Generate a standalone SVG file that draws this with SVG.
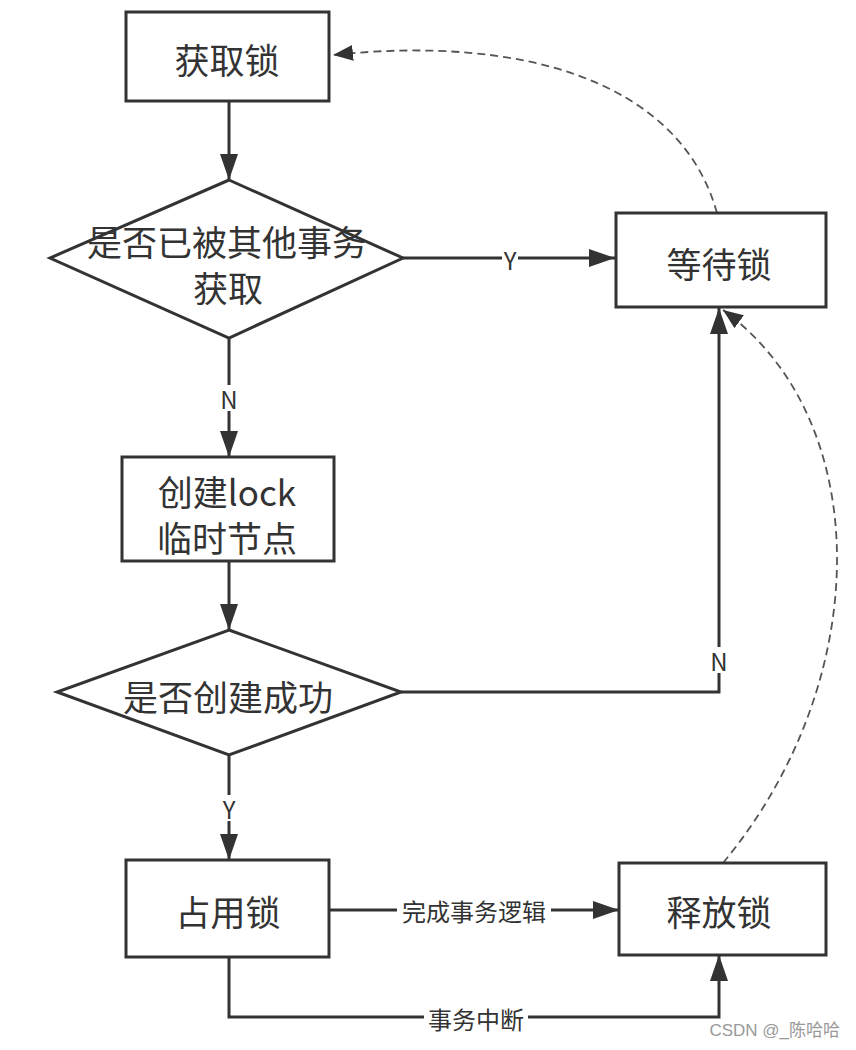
<svg xmlns="http://www.w3.org/2000/svg" width="856" height="1050" viewBox="0 0 856 1050">
<defs>
<marker id="arr" markerWidth="28" markerHeight="20" refX="26" refY="9" orient="auto" markerUnits="userSpaceOnUse">
<path d="M0,0 L26,9 L0,18 Z" fill="#333"/>
</marker>
<marker id="arrd" markerWidth="22" markerHeight="18" refX="20" refY="8" orient="auto" markerUnits="userSpaceOnUse">
<path d="M0,0 L20,8 L0,16 Z" fill="#333"/>
</marker>
<style>
.box{fill:#fff;stroke:#333;stroke-width:3}
.t{font-family:"Noto Sans CJK SC","Liberation Sans",sans-serif;font-size:35px;fill:#333;text-anchor:middle;dominant-baseline:central}
.e{fill:none;stroke:#333;stroke-width:3}
.d{fill:none;stroke:#555;stroke-width:1.8;stroke-dasharray:8 5}
.l{font-family:"Noto Sans CJK SC","Liberation Sans",sans-serif;font-size:24px;fill:#333;text-anchor:middle;dominant-baseline:central}
.bg{fill:#fff}
</style>
</defs>
<rect width="856" height="1050" fill="#fff"/>
<g id="connectors">
<path class="e" d="M229 102 V180" marker-end="url(#arr)"/>
<path class="e" d="M403 258 H615" marker-end="url(#arr)"/>
<path class="e" d="M229 338 V457" marker-end="url(#arr)"/>
<path class="e" d="M229 561 V630" marker-end="url(#arr)"/>
<path class="e" d="M401 692 H719 V308" marker-end="url(#arr)"/>
<path class="e" d="M229 755 V860" marker-end="url(#arr)"/>
<path class="e" d="M329 910 H619" marker-end="url(#arr)"/>
<path class="e" d="M229 957 V1017 H719 V955" marker-end="url(#arr)"/>
<path class="d" d="M717 213 C680 80 520 35 333 55" marker-end="url(#arrd)"/>
<path class="d" d="M723 863 C875 680 875 420 723 310" marker-end="url(#arrd)"/>
<rect class="bg" x="502" y="246" width="16" height="24"/>
<text class="l" x="510" y="259" font-size="20">Y</text>
<rect class="bg" x="219" y="385" width="20" height="26"/>
<text class="l" x="229" y="398">N</text>
<rect class="bg" x="709" y="647" width="20" height="26"/>
<text class="l" x="719" y="660">N</text>
<rect class="bg" x="219" y="795" width="20" height="26"/>
<text class="l" x="229" y="808">Y</text>
<rect class="bg" x="397" y="896" width="154" height="28"/>
<text class="l" x="474" y="910">完成事务逻辑</text>
<rect class="bg" x="424" y="1003" width="104" height="28"/>
<text class="l" x="476" y="1018">事务中断</text>
</g>
<g id="n1"><rect class="box" x="126" y="12" width="203" height="89"/><text class="t" x="227" y="58">获取锁</text></g>
<g id="n2"><polygon class="box" points="229,180 403,258 229,338 50,258"/><text class="t" x="227" y="240">是否已被其他事务</text><text class="t" x="228" y="286">获取</text></g>
<g id="n3"><rect class="box" x="616" y="213" width="210" height="94"/><text class="t" x="719" y="262">等待锁</text></g>
<g id="n4"><rect class="box" x="122" y="457" width="212" height="104"/><text class="t" x="227" y="490">创建lock</text><text class="t" x="227" y="536">临时节点</text></g>
<g id="n5"><polygon class="box" points="229,630 401,692 229,755 57,692"/><text class="t" x="228" y="695">是否创建成功</text></g>
<g id="n6"><rect class="box" x="126" y="860" width="203" height="97"/><text class="t" x="228" y="910">占用锁</text></g>
<g id="n7"><rect class="box" x="619" y="863" width="207" height="92"/><text class="t" x="719" y="910">释放锁</text></g>
<text x="840" y="1030" font-family="Liberation Sans, 'Noto Sans CJK SC', sans-serif" font-size="17" fill="#999" text-anchor="end" dominant-baseline="central">CSDN @_陈哈哈</text>
</svg>
